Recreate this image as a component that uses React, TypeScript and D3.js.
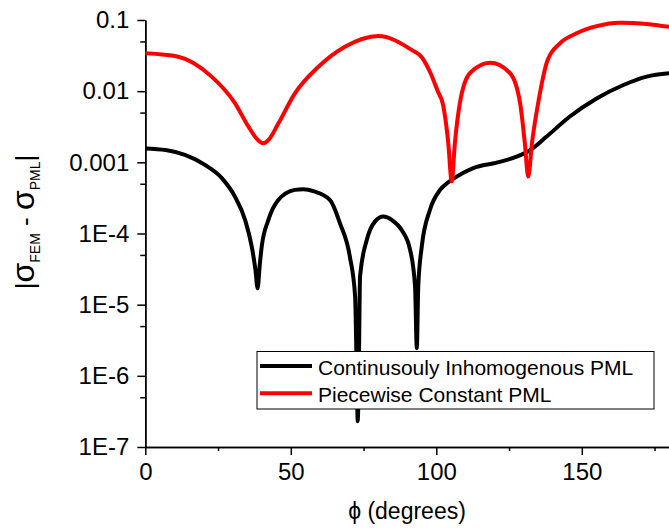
import { useRef, useEffect } from 'react'
import * as d3 from 'd3'

// angle (degrees) and |sigma_FEM - sigma_PML| for each PML
const phiCont = [0, 7, 13.6, 20.5, 26.3, 30.8, 34.3, 36.6, 37.8, 38.6, 39.3, 40, 42.3, 45.7, 51.4, 54.3, 58, 63.5, 66.9, 70.3, 72.1, 72.6, 73, 73.4, 73.8, 76.1, 78.9, 81.8, 84.7, 88.1, 91, 92.7, 93.3, 93.8, 95, 97.8, 101.3, 104, 107, 112.7, 120.8, 127.6, 132.2, 137.9, 145.9, 155.1, 164.3, 172.3, 180]
const valCont = [1.57e-3, 1.49e-3, 1.27e-3, 9.2e-4, 6.0e-4, 3.3e-4, 1.55e-4, 6.5e-5, 3.2e-5, 1.7e-5, 3.5e-5, 6.5e-5, 1.55e-4, 2.95e-4, 4.1e-4, 4.2e-4, 3.9e-4, 2.95e-4, 1.39e-4, 4.7e-5, 1.3e-5, 1.5e-6, 2.3e-7, 1.5e-6, 2.5e-5, 8.1e-5, 1.47e-4, 1.73e-4, 1.55e-4, 1.12e-4, 5.9e-5, 1.8e-5, 2.45e-6, 1.8e-5, 6.5e-5, 2.14e-4, 4.1e-4, 5.2e-4, 6.3e-4, 8.3e-4, 9.9e-4, 1.2e-3, 1.48e-3, 2.3e-3, 4.4e-3, 7.9e-3, 1.22e-2, 1.6e-2, 1.78e-2]

const phiPiece = [0, 11.3, 22.8, 30.8, 35.4, 38.5, 40.5, 42.5, 45.7, 51.4, 59.5, 68.6, 80, 91.5, 95, 98, 100.5, 102.3, 104.1, 105.3, 106.4, 108.1, 111.6, 118.5, 125.3, 128.8, 130.4, 131.6, 132.9, 135, 138.2, 142.5, 148.2, 155.1, 163.1, 172.3, 180]
const valPiece = [0.034, 0.0305, 0.016, 0.0068, 0.0032, 0.0021, 0.00185, 0.0021, 0.0035, 0.0093, 0.022, 0.042, 0.0596, 0.038, 0.03, 0.018, 0.01, 0.0065, 0.0019, 5.4e-4, 0.0019, 0.0068, 0.018, 0.025, 0.018, 0.0068, 0.0019, 6.3e-4, 0.0019, 0.0068, 0.027, 0.047, 0.065, 0.082, 0.0916, 0.088, 0.08]

const seriesNames = ['Continusouly Inhomogenous PML', 'Piecewise Constant PML']
const seriesColors = ['#000000', '#ff0000']

const xTicks = [0, 50, 100, 150]
const xMinor = [25, 75, 125, 175]
const yTicks = [1e-7, 1e-6, 1e-5, 1e-4, 1e-3, 1e-2, 1e-1]
const yTickLabels = ['1E-7', '1E-6', '1E-5', '1E-4', '0.001', '0.01', '0.1']
const yMinor = [5e-7, 5e-6, 5e-5, 5e-4, 5e-3, 5e-2]

const FONT = 'Liberation Sans, Arial, sans-serif'

export default function App() {
  const svgRef = useRef<SVGSVGElement>(null)

  useEffect(() => {
    if (!svgRef.current) return
    const svg = d3.select(svgRef.current)
    svg.selectAll('*').remove()

    const x = d3.scaleLinear().domain([0, 180]).range([145.3, 669.1])
    const y = d3.scaleLog().domain([1e-7, 0.1]).range([447, 20])
    const x0 = 145.3, y0 = 447

    // x axis (minor ticks in their own group so the major ones survive)
    svg.append('g').attr('transform', `translate(0,${y0})`)
      .call(d3.axisBottom(x).tickValues(xMinor).tickSize(4).tickSizeOuter(0).tickFormat(() => ''))
      .selectAll('line, path').attr('stroke', '#000').attr('stroke-width', 1.5)
    const xa = svg.append('g').attr('transform', `translate(0,${y0})`)
      .call(d3.axisBottom(x).tickValues(xTicks).tickSize(8).tickSizeOuter(0).tickPadding(8).tickFormat(d3.format('d')))
    xa.selectAll('text').attr('font-size', '24px').attr('font-family', FONT).attr('fill', '#000')
    xa.selectAll('line, path').attr('stroke', '#000').attr('stroke-width', 1.5)

    // y axis
    svg.append('g').attr('transform', `translate(${x0},0)`)
      .call(d3.axisLeft(y).tickValues(yMinor).tickSize(5).tickSizeOuter(0).tickFormat(() => ''))
      .selectAll('line, path').attr('stroke', '#000').attr('stroke-width', 1.5)
    const ya = svg.append('g').attr('transform', `translate(${x0},0)`)
      .call(d3.axisLeft(y).tickValues(yTicks).tickSize(8).tickSizeOuter(0).tickPadding(8)
        .tickFormat((d, i) => yTickLabels[i]))
    ya.selectAll('text').attr('font-size', '24px').attr('font-family', FONT).attr('fill', '#000')
    ya.selectAll('line, path').attr('stroke', '#000').attr('stroke-width', 1.5)

    // titles
    svg.append('text')
      .attr('x', 407).attr('y', 519)
      .attr('text-anchor', 'middle')
      .attr('font-size', '23px').attr('font-family', FONT)
      .text('ϕ (degrees)')

    const yt = svg.append('text')
      .attr('transform', 'translate(34,222) rotate(-90)')
      .attr('text-anchor', 'middle')
      .attr('font-size', '26px').attr('font-family', FONT)
    yt.append('tspan').text('|')
    yt.append('tspan').attr('font-size', '32px').text('σ')
    yt.append('tspan').attr('font-size', '14px').attr('dy', 6).text('FEM')
    yt.append('tspan').attr('dy', -6).text(' - ')
    yt.append('tspan').attr('font-size', '32px').text('σ')
    yt.append('tspan').attr('font-size', '14px').attr('dy', 6).text('PML')
    yt.append('tspan').attr('dy', -6).text('|')

    // curves
    const line = d3.line<[number, number]>()
      .x(d => x(d[0])).y(d => y(d[1]))
      .curve(d3.curveMonotoneX)
    const series = [
      d3.zip(phiCont, valCont) as [number, number][],
      d3.zip(phiPiece, valPiece) as [number, number][],
    ]
    series.forEach((pts, i) => {
      svg.append('path')
        .datum(pts)
        .attr('d', line)
        .attr('fill', 'none')
        .attr('stroke', seriesColors[i])
        .attr('stroke-width', 4)
        .attr('stroke-linejoin', 'round')
    })

    // legend
    const lg = svg.append('g')
    lg.append('rect')
      .attr('x', 257).attr('y', 351.5).attr('width', 397).attr('height', 57.5)
      .attr('fill', '#fff').attr('stroke', '#000').attr('stroke-width', 1)
    seriesNames.forEach((name, i) => {
      const yy = 366 + i * 27.3
      lg.append('line')
        .attr('x1', 260).attr('x2', 312).attr('y1', yy).attr('y2', yy)
        .attr('stroke', seriesColors[i]).attr('stroke-width', 4)
      lg.append('text')
        .attr('x', 318).attr('y', yy + 8.5)
        .attr('font-size', '21px').attr('font-family', FONT)
        .text(name)
    })
  }, [])

  return (
    <svg
      ref={svgRef}
      width={669}
      height={529}
      style={{ position: 'absolute', left: 0, top: 0, background: '#fff' }}
    />
  )
}
